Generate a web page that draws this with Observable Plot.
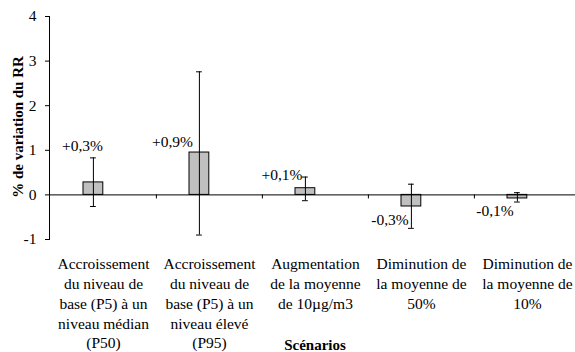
<!DOCTYPE html>
<html><head><meta charset="utf-8">
<script src="https://cdn.jsdelivr.net/npm/d3@7"></script>
<script src="https://cdn.jsdelivr.net/npm/@observablehq/plot@0.6"></script>
<style>
html,body{margin:0;padding:0;background:#fff;overflow:hidden;}
svg, svg text, svg g {font-family: "Liberation Serif", "Times New Roman", "DejaVu Serif", serif !important;}
</style>
</head><body><div id="chart"></div>
<script>
const categories = [
  "Accroissement\ndu niveau de\nbase (P5) à un\nniveau médian\n(P50)",
  "Accroissement\ndu niveau de\nbase (P5) à un\nniveau élevé\n(P95)",
  "Augmentation\nde la moyenne\nde 10µg/m3",
  "Diminution de\nla moyenne de\n50%",
  "Diminution de\nla moyenne de\n10%"
];
const values = [0.28, 0.95, 0.15, -0.26, -0.08];
const errLow = [-0.26, -0.90, -0.13, -0.75, -0.16];
const errHigh = [0.83, 2.76, 0.40, 0.24, 0.05];
const valueLabels = ["+0,3%", "+0,9%", "+0,1%", "-0,3%", "-0,1%"];
const yTicks = [-1, 0, 1, 2, 3, 4];
const yTitle = "% de variation du RR";
const xTitle = "Scénarios";

// layout (styles, not data)
const W = 575, H = 352, ML = 49, MR = -5, MT = 16, MB = 113;
const bw = (W - MR - ML) / categories.length;
const barL = 33, barW = 20;            // bar offset within a band (Excel clustered look)
const barShift = barL + barW / 2 - bw / 2;
const capW = 6;
const labelDx = [-21, -37, -33.5, -31.5, -32.5];
const labelDy = [-36.8, -10.6, -13.3, 14, 13];

const data = categories.map((c, i) => ({c, v: values[i], lo: errLow[i], hi: errHigh[i], label: valueLabels[i]}));

const font = "Liberation Serif, Times New Roman, serif";

const chart = Plot.plot({
  width: W, height: H,
  marginLeft: ML, marginRight: MR, marginTop: MT, marginBottom: MB,
  style: {fontFamily: font, fontSize: "15.5px", color: "#000", background: "#fff"},
  x: {domain: categories, padding: 0, label: null},
  y: {domain: [-1, 4], label: null},
  marks: [
    Plot.frame({anchor: "left", stroke: "#000"}),
    Plot.axisY({ticks: yTicks, tickSize: 4, tickPadding: 9, tickFormat: d => String(d), fontSize: "15.5px", label: null}),
    Plot.axisX({tickSize: 0, tickPadding: 16, lineHeight: 1.27, fontSize: "15.5px", label: null}),
    Plot.barY(data, {x: "c", y: "v", fill: "#c0c0c0", stroke: "#000", strokeWidth: 1,
      insetLeft: barL, insetRight: bw - barL - barW}),
    Plot.ruleY([0], {stroke: "#000", strokeWidth: 1}),
    Plot.ruleX(categories.slice(1), {x: d => d, y1: 0, y2: -0.09, dx: -bw / 2, stroke: "#000"}),
    Plot.ruleX(data, {x: "c", y1: "lo", y2: "hi", dx: barShift, stroke: "#000"}),
    Plot.tickY(data, {x: "c", y: "lo", stroke: "#000", insetLeft: barL + barW / 2 - capW / 2, insetRight: bw - barL - barW / 2 - capW / 2}),
    Plot.tickY(data, {x: "c", y: "hi", stroke: "#000", insetLeft: barL + barW / 2 - capW / 2, insetRight: bw - barL - barW / 2 - capW / 2}),
    ...data.map((d, i) => Plot.text([d], {x: "c", y: "v", text: "label", dx: labelDx[i], dy: labelDy[i],
      textAnchor: "middle", lineAnchor: "middle", fontSize: "15.5px", fill: "#000"})),
    Plot.text([yTitle], {frameAnchor: "left", rotate: -90, dx: -31.5, dy: -1, fontWeight: "bold", fontSize: "15px", textAnchor: "middle", lineAnchor: "middle", fill: "#000"}),
    Plot.text([xTitle], {frameAnchor: "bottom", dy: 106, fontWeight: "bold", fontSize: "15px", textAnchor: "middle", lineAnchor: "middle", fill: "#000"})
  ]
});
document.getElementById("chart").appendChild(chart);
</script>
</body></html>
